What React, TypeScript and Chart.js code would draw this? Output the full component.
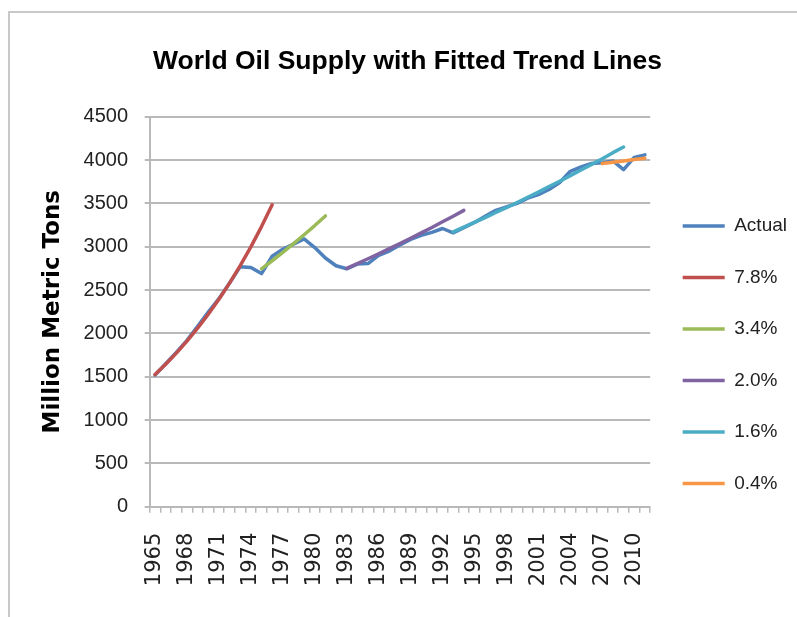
import React, { useEffect, useRef } from 'react';
import { Chart, registerables } from 'chart.js';

Chart.register(...registerables);

const TITLE = 'World Oil Supply with Fitted Trend Lines';
const Y_TITLE = 'Million Metric Tons';

const years = [
  '1965', '1966', '1967', '1968', '1969', '1970', '1971', '1972', '1973', '1974',
  '1975', '1976', '1977', '1978', '1979', '1980', '1981', '1982', '1983', '1984',
  '1985', '1986', '1987', '1988', '1989', '1990', '1991', '1992', '1993', '1994',
  '1995', '1996', '1997', '1998', '1999', '2000', '2001', '2002', '2003', '2004',
  '2005', '2006', '2007', '2008', '2009', '2010', '2011',
];

const actual = [
  1520, 1650, 1780, 1920, 2080, 2245, 2400, 2580, 2770, 2760,
  2690, 2890, 2970, 3030, 3090, 2990, 2870, 2780, 2745, 2800,
  2805, 2900, 2950, 3020, 3085, 3130, 3165, 3210, 3160, 3220,
  3280, 3350, 3420, 3460, 3500, 3560, 3600, 3660, 3740, 3870,
  3920, 3960, 3970, 3990, 3890, 4030, 4060,
];

// Fitted trend lines: first year and the values from that year on
const trend78Start = '1965';
const trend78 = [1525, 1644, 1772, 1911, 2060, 2220, 2393, 2580, 2781, 2998, 3232, 3484];
const trend34Start = '1975';
const trend34 = [2745, 2838, 2935, 3035, 3138, 3244, 3355];
const trend20Start = '1983';
const trend20 = [2750, 2805, 2861, 2918, 2977, 3036, 3097, 3159, 3222, 3287, 3352, 3419];
const trend16Start = '1993';
const trend16 = [3170, 3225, 3280, 3335, 3395, 3450, 3510, 3570, 3630, 3695, 3755, 3820, 3885, 3950, 4015, 4085, 4150];
const trend04Start = '2007';
const trend04 = [3960, 3975, 3990, 4005, 4020];

const yTicks = [0, 500, 1000, 1500, 2000, 2500, 3000, 3500, 4000, 4500];
const xLabelEvery = 3;

const seriesNames = ['Actual', '7.8%', '3.4%', '2.0%', '1.6%', '0.4%'];
const seriesColors = ['#4F81BD', '#C0504D', '#9BBB59', '#8064A2', '#4BACC6', '#F79646'];

function place(start: string, values: number[]): (number | null)[] {
  const i0 = years.indexOf(start);
  return years.map((_, i) => (i >= i0 && i - i0 < values.length ? values[i - i0] : null));
}

const GRID = '#b9b9b9';

export default function App() {
  const ref = useRef<HTMLCanvasElement>(null);

  useEffect(() => {
    const canvas = ref.current;
    if (!canvas) return;
    const seriesData = [
      actual,
      place(trend78Start, trend78),
      place(trend34Start, trend34),
      place(trend20Start, trend20),
      place(trend16Start, trend16),
      place(trend04Start, trend04),
    ];
    const datasets = seriesData.map((d, i) => ({
      label: seriesNames[i],
      data: d,
      borderColor: seriesColors[i],
      backgroundColor: seriesColors[i],
      borderWidth: 3.5,
      pointRadius: 0,
      tension: 0,
      spanGaps: false,
      borderJoinStyle: 'round' as const,
      borderCapStyle: 'round' as const,
      order: i === 0 ? 1 : 0,
    }));

    const chart = new Chart(canvas, {
      type: 'line',
      data: { labels: years, datasets },
      options: {
        responsive: false,
        maintainAspectRatio: false,
        animation: false,
        events: [],
        layout: { padding: { left: 18, right: 0, top: 0, bottom: 0 } },
        plugins: {
          title: {
            display: true,
            text: TITLE,
            color: '#000',
            font: { family: '"Liberation Sans", Arial, sans-serif', size: 26.5, weight: 'bold' },
            padding: { top: 46, bottom: 38.9 },
          },
          legend: {
            display: true,
            position: 'right',
            align: 'start',
            maxWidth: 148.6,
            title: { display: true, text: '', font: { size: 12 }, padding: { top: 169.6, bottom: 0 } },
            labels: {
              boxWidth: 42,
              boxHeight: 3.5,
              padding: 32.5,
              color: '#222',
              font: { family: '"Liberation Sans", Arial, sans-serif', size: 19 },
              sort: (a: any, b: any) => a.datasetIndex - b.datasetIndex,
              generateLabels: (c: any) =>
                Chart.defaults.plugins.legend.labels
                  .generateLabels(c)
                  .map((l: any) => ({ ...l, lineWidth: 0, fillStyle: l.strokeStyle })),
            },
          },
          tooltip: { enabled: false },
        },
        scales: {
          x: {
            type: 'category',
            offset: true,
            afterFit: (s: any) => {
              s.height = 110.3;
            },
            grid: {
              display: true,
              drawOnChartArea: false,
              drawTicks: true,
              tickLength: 6,
              offset: true,
              color: GRID,
              lineWidth: 1.5,
            },
            border: { display: true, color: GRID, width: 2 },
            ticks: {
              autoSkip: false,
              maxRotation: 90,
              minRotation: 90,
              padding: 20,
              color: '#222',
              font: { family: '"DejaVu Sans", sans-serif', size: 21 },
              callback: (_v: any, i: number) => (i % xLabelEvery === 0 ? years[i] : ''),
            },
          },
          y: {
            min: yTicks[0],
            max: yTicks[yTicks.length - 1],
            afterFit: (s: any) => {
              s.width = 131.7;
            },
            afterBuildTicks: (s: any) => {
              s.ticks = yTicks.map((v) => ({ value: v }));
            },
            grid: { color: GRID, lineWidth: 2, tickLength: 5, drawTicks: true },
            border: { display: true, color: GRID, width: 2 },
            ticks: {
              padding: 16.7,
              color: '#222',
              font: { family: '"Liberation Sans", Arial, sans-serif', size: 20 },
              callback: (v: any) => String(v),
            },
            title: {
              display: true,
              text: Y_TITLE,
              color: '#000',
              font: { family: '"DejaVu Sans", sans-serif', size: 23, weight: 'bold' },
              padding: { top: 21.2, bottom: 0 },
            },
          },
        },
      },
    });
    return () => chart.destroy();
  }, []);

  return (
    <div
      style={{
        position: 'fixed',
        left: 0,
        top: 0,
        width: 797,
        height: 617,
        background: '#fff',
        overflow: 'hidden',
      }}
    >
      <canvas ref={ref} width={797} height={617} style={{ display: 'block', width: 797, height: 617 }} />
      <div
        style={{
          position: 'absolute',
          left: 8,
          top: 11,
          width: 820,
          height: 640,
          borderLeft: '2px solid #c9c9c9',
          borderTop: '2px solid #c9c9c9',
          pointerEvents: 'none',
        }}
      />
    </div>
  );
}
